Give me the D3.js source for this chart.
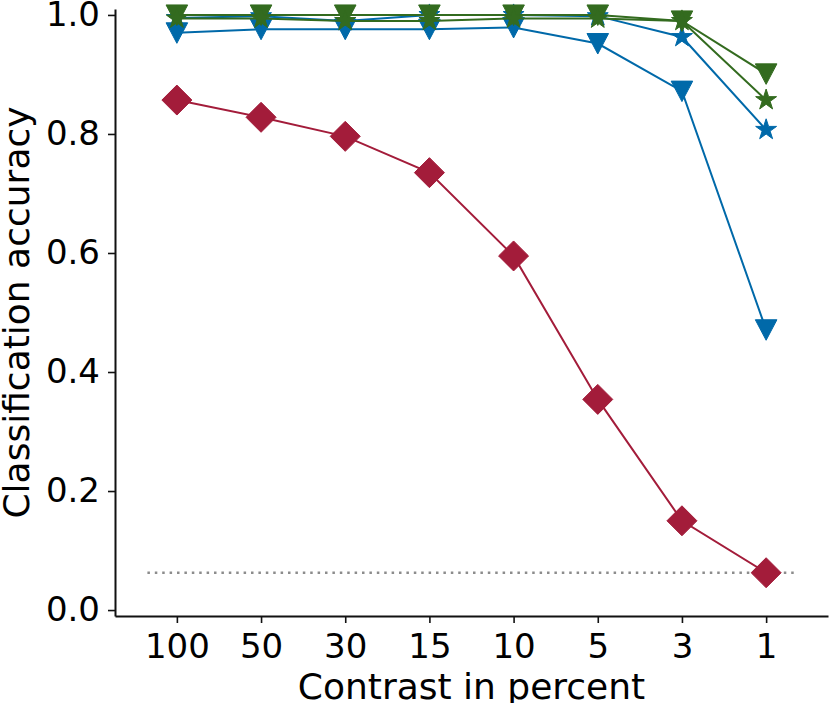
<!DOCTYPE html>
<html>
<head>
<meta charset="utf-8">
<script src="https://cdnjs.cloudflare.com/ajax/libs/d3/7.8.5/d3.min.js"></script>
<style>
  body { margin: 0; background: #fff; }
  text { font-family: "DejaVu Sans", sans-serif; fill: #000; }
</style>
</head>
<body>
<div id="chart"></div>
<script>
// contrast levels on the x axis (categorical, evenly spaced)
const contrasts = ['100', '50', '30', '15', '10', '5', '3', '1'];
const yTicks = [0.0, 0.2, 0.4, 0.6, 0.8, 1.0];
const chance = 1 / 16;

// accuracies per model
const blueTri = [0.970, 0.976, 0.976, 0.976, 0.979, 0.952, 0.872, 0.471];
const blueStar = [0.995, 0.998, 0.990, 1.000, 1.000, 0.998, 0.963, 0.807];
const greenTri = [1.000, 1.000, 1.000, 1.000, 1.000, 1.000, 0.990, 0.901];
const greenStar = [0.994, 0.994, 0.990, 0.990, 0.994, 0.994, 0.990, 0.857];
const redDiamond = [0.857, 0.828, 0.796, 0.735, 0.595, 0.354, 0.150, 0.0627];

const blue = '#0069a9';
const green = '#336b1f';
const red = '#a31c3a';

const series = [
  {values: blueTri, color: blue, marker: 'tri'},
  {values: blueStar, color: blue, marker: 'star'},
  {values: greenTri, color: green, marker: 'tri'},
  {values: greenStar, color: green, marker: 'star'},
  {values: redDiamond, color: red, marker: 'diamond'},
];

const width = 830, height = 703;
const svg = d3.select('#chart').append('svg')
  .attr('width', width).attr('height', height);

const x = d3.scalePoint().domain(contrasts).range([115, 828]).padding(0.735);
const y = d3.scaleLinear().domain([-0.01, 1.01]).range([616, 9]);

// marker shapes (centred on 0,0)
function starPath(R) {
  const r = R * 0.382;
  const pts = [];
  for (let i = 0; i < 10; i++) {
    const a = -Math.PI / 2 + i * Math.PI / 5;
    const rad = i % 2 === 0 ? R : r;
    pts.push([rad * Math.cos(a), rad * Math.sin(a)]);
  }
  return 'M' + pts.map(p => p.join(',')).join('L') + 'Z';
}
const markerPaths = {
  tri: 'M-10.8,-10L10.8,-10L0,10.5Z',
  star: starPath(11),
  diamond: 'M0,-15L15,0L0,15L-15,0Z',
};

// chance level
const step = x.step();
svg.append('line')
  .attr('x1', x(contrasts[0]) - 0.35 * step)
  .attr('x2', x(contrasts[contrasts.length - 1]) + 0.35 * step)
  .attr('y1', y(chance)).attr('y2', y(chance))
  .attr('stroke', '#8c8c8c')
  .attr('stroke-width', 2.5)
  .attr('stroke-dasharray', '2.5,4.9');

const line = d3.line()
  .x((d, i) => x(contrasts[i]))
  .y(d => y(d));

series.forEach(s => {
  const g = svg.append('g');
  g.append('path')
    .datum(s.values)
    .attr('d', line)
    .attr('fill', 'none')
    .attr('stroke', s.color)
    .attr('stroke-width', 2);
  g.selectAll('path.marker')
    .data(s.values)
    .join('path')
    .attr('class', 'marker')
    .attr('transform', (d, i) => `translate(${x(contrasts[i])},${y(d)})`)
    .attr('d', markerPaths[s.marker])
    .attr('fill', s.color)
    .attr('stroke', s.color)
    .attr('stroke-width', 1);
});

// axes (tickSize sets the outer size too, so zero it afterwards)
const xAxis = svg.append('g')
  .attr('transform', `translate(0,${y(-0.01)})`)
  .call(d3.axisBottom(x).tickSize(7).tickSizeOuter(0).tickPadding(11));
const yAxis = svg.append('g')
  .attr('transform', `translate(${x.range()[0]},0)`)
  .call(d3.axisLeft(y).tickValues(yTicks).tickFormat(d3.format('.1f'))
    .tickSize(7).tickSizeOuter(0).tickPadding(8));

[xAxis, yAxis].forEach(a => {
  a.select('.domain').attr('stroke', '#111').attr('stroke-width', 2);
  a.selectAll('.tick line').attr('stroke', '#111').attr('stroke-width', 1.6);
  a.selectAll('.tick text').attr('font-size', 34).attr('font-family', '"DejaVu Sans", sans-serif').attr('fill', '#000');
});

svg.append('text')
  .attr('x', (x.range()[0] + x.range()[1]) / 2)
  .attr('y', 699)
  .attr('text-anchor', 'middle')
  .attr('font-size', 36)
  .text('Contrast in percent');

svg.append('text')
  .attr('transform', `translate(29,${(y.range()[0] + y.range()[1]) / 2}) rotate(-90)`)
  .attr('text-anchor', 'middle')
  .attr('font-size', 36)
  .text('Classification accuracy');
</script>
</body>
</html>
